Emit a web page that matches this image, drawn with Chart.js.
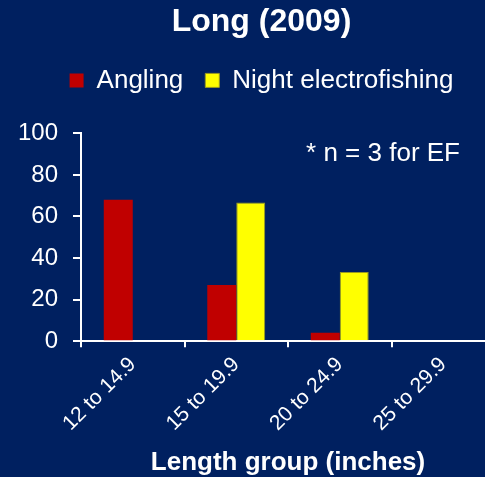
<!DOCTYPE html>
<html>
<head>
<meta charset="utf-8">
<script src="https://cdn.jsdelivr.net/npm/chart.js@4.4.0/dist/chart.umd.min.js"></script>
<style>
  html, body { margin:0; padding:0; background:#002060; overflow:hidden; }
  #wrap { width:524px; height:477px; }
</style>
</head>
<body>
<div id="wrap"><canvas id="myChart" width="524" height="477"></canvas></div>
<script>
// data
var lengthGroups = ['12 to 14.9', '15 to 19.9', '20 to 24.9', '25 to 29.9'];
var angling = [68, 27, 4, 0];
var nightEF = [0, 66.7, 33.3, 0];
var yTicks = [0, 20, 40, 60, 80, 100];

var FONT = '"Liberation Sans", Arial, sans-serif';

// the "* n = 3 for EF" note
var notePlugin = {
    id: 'note',
    afterDraw: function(chart) {
        var ctx = chart.ctx;
        var area = chart.chartArea;
        ctx.save();
        ctx.font = '26px ' + FONT;
        ctx.fillStyle = '#ffffff';
        ctx.textAlign = 'right';
        ctx.textBaseline = 'middle';
        ctx.fillText('* n = 3 for EF', area.right - 35, area.top + 20);
        ctx.restore();
    }
};

// extra room under the legend, and title/legend nudged right a bit
var legendGap = {
    id: 'legendGap',
    beforeInit: function(chart) {
        var origFit = chart.legend.fit;
        chart.legend.fit = function() {
            origFit.bind(chart.legend)();
            this.height += 30;
        };
    },
    afterLayout: function(chart) {
        chart.titleBlock.left += 10;
        chart.legend.left += 10;
    }
};

var ctx = document.getElementById('myChart').getContext('2d');
var chart = new Chart(ctx, {
    type: 'bar',
    data: {
        labels: lengthGroups,
        datasets: [{
            label: 'Angling',
            data: angling,
            backgroundColor: '#c00000',
            borderWidth: 0
        },
        {
            label: 'Night electrofishing',
            data: nightEF,
            backgroundColor: '#ffff00',
            borderColor: '#9a9a20',
            borderWidth: 1
        }]
    },
    options: {
        responsive: false,
        devicePixelRatio: 1,
        animation: false,
        layout: { padding: { left: 18, right: 29, top: 0, bottom: 1 } },
        plugins: {
            title: {
                display: true,
                text: 'Long (2009)',
                color: '#ffffff',
                font: { family: FONT, size: 32, weight: 'bold' },
                padding: { top: 3, bottom: 4 }
            },
            legend: {
                display: true,
                labels: {
                    color: '#ffffff',
                    font: { family: FONT, size: 26 },
                    boxWidth: 14,
                    boxHeight: 14,
                    padding: 22
                }
            },
            tooltip: { enabled: false }
        },
        datasets: {
            bar: { barPercentage: 1, categoryPercentage: 0.56 }
        },
        scales: {
            x: {
                grid: {
                    display: true,
                    drawOnChartArea: false,
                    drawTicks: true,
                    tickLength: 6,
                    color: '#ffffff',
                    lineWidth: 2
                },
                border: { color: '#ffffff', width: 2 },
                ticks: {
                    color: '#ffffff',
                    font: { family: FONT, size: 21 },
                    minRotation: 45,
                    maxRotation: 45,
                    autoSkip: false,
                    padding: 5
                },
                title: {
                    display: true,
                    text: 'Length group (inches)',
                    color: '#ffffff',
                    font: { family: FONT, size: 26, weight: 'bold', lineHeight: 1 },
                    padding: { top: 9, bottom: 0 }
                }
            },
            y: {
                min: yTicks[0],
                max: yTicks[yTicks.length - 1],
                afterBuildTicks: function(axis) {
                    axis.ticks = yTicks.map(function(v) { return { value: v }; });
                },
                afterFit: function(axis) {
                    axis.width = 63;
                },
                grid: {
                    display: true,
                    drawOnChartArea: false,
                    drawTicks: true,
                    tickLength: 8,
                    color: '#ffffff',
                    lineWidth: 2
                },
                border: { color: '#ffffff', width: 2 },
                ticks: {
                    color: '#ffffff',
                    font: { family: FONT, size: 24 },
                    padding: 15
                }
            }
        }
    },
    plugins: [notePlugin, legendGap]
});
</script>
</body>
</html>
